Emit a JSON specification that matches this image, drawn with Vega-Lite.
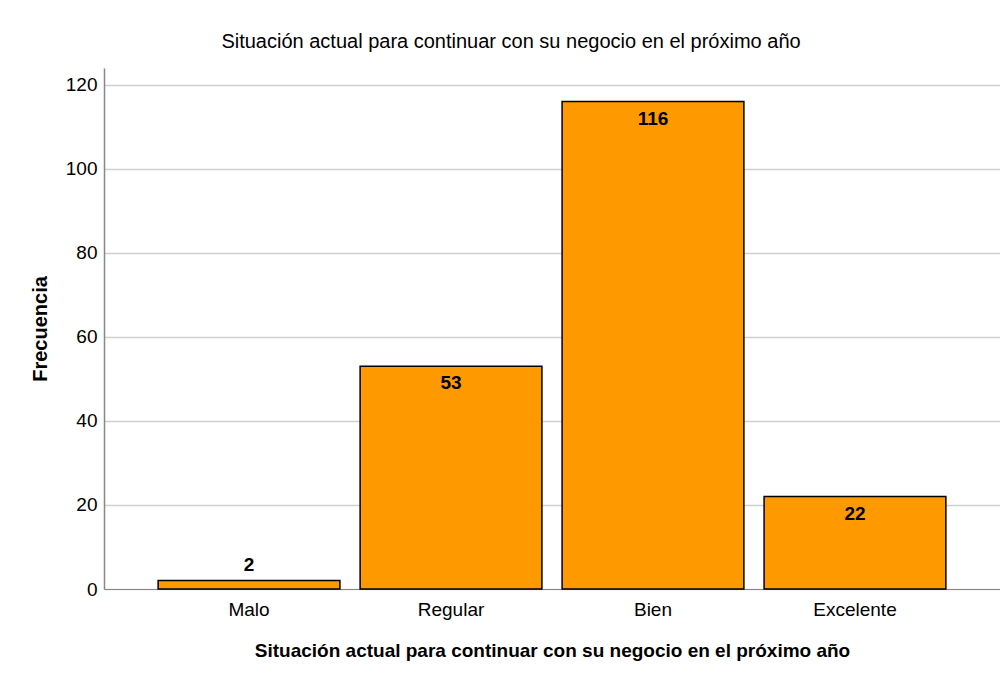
{
  "$schema": "https://vega.github.io/schema/vega-lite/v6.json",
  "autosize": "none",
  "width": 896,
  "height": 521,
  "padding": {"left": 104, "top": 68, "right": 0, "bottom": 87},
  "background": "white",
  "config": {
    "font": "Liberation Sans",
    "view": {"stroke": null}
  },
  "title": {
    "text": "Situación actual para continuar con su negocio en el próximo año",
    "fontSize": 20,
    "fontWeight": "normal",
    "color": "#000000",
    "anchor": "middle",
    "dx": -41,
    "offset": 16
  },
  "data": {
    "values": [
      {"categoria": "Malo", "frecuencia": 2},
      {"categoria": "Regular", "frecuencia": 53},
      {"categoria": "Bien", "frecuencia": 116},
      {"categoria": "Excelente", "frecuencia": 22}
    ]
  },
  "encoding": {
    "x": {
      "field": "categoria",
      "type": "nominal",
      "sort": ["Malo", "Regular", "Bien", "Excelente"],
      "scale": {"paddingInner": 0.1, "paddingOuter": 0.268},
      "axis": {
        "title": "Situación actual para continuar con su negocio en el próximo año",
        "titleFontSize": 19,
        "titleFontWeight": "bold",
        "titleColor": "#000000",
        "titlePadding": 22,
        "labelAngle": 0,
        "labelFontSize": 19,
        "labelColor": "#000000",
        "labelPadding": 11,
        "ticks": false,
        "domainColor": "#888888",
        "domainWidth": 1
      }
    },
    "y": {
      "field": "frecuencia",
      "type": "quantitative",
      "scale": {"domain": [0, 124], "nice": false},
      "axis": {
        "title": "Frecuencia",
        "titleFontSize": 20,
        "titleFontWeight": "bold",
        "titleColor": "#000000",
        "titlePadding": 15,
        "values": [0, 20, 40, 60, 80, 100, 120],
        "labelFontSize": 19,
        "labelColor": "#000000",
        "labelPadding": 7,
        "ticks": false,
        "gridColor": "#d0d0d0",
        "gridWidth": 1.5,
        "domainColor": "#888888",
        "domainWidth": 1.5
      }
    }
  },
  "layer": [
    {
      "mark": {"type": "bar", "color": "#FF9900", "stroke": "#000000", "strokeWidth": 1.5}
    },
    {
      "transform": [{"filter": "datum.frecuencia >= 10"}],
      "mark": {"type": "text", "fontSize": 19, "fontWeight": "bold", "color": "#000000", "baseline": "middle", "dy": 17},
      "encoding": {"text": {"field": "frecuencia", "type": "quantitative"}}
    },
    {
      "transform": [{"filter": "datum.frecuencia < 10"}],
      "mark": {"type": "text", "fontSize": 19, "fontWeight": "bold", "color": "#000000", "baseline": "middle", "dy": -16},
      "encoding": {"text": {"field": "frecuencia", "type": "quantitative"}}
    }
  ]
}
